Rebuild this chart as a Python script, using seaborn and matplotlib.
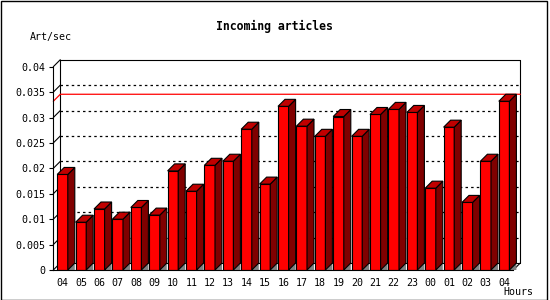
import numpy as np
import pandas as pd
import matplotlib
matplotlib.use("Agg")
import matplotlib.pyplot as plt
from matplotlib.patches import Polygon, Rectangle
from matplotlib.ticker import FuncFormatter
import seaborn as sns

# ---- data ----
hours = ['04', '05', '06', '07', '08', '09', '10', '11', '12', '13', '14', '15',
         '16', '17', '18', '19', '20', '21', '22', '23', '00', '01', '02', '03', '04']
values = [0.0188, 0.0094, 0.0120, 0.0100, 0.0123, 0.0108, 0.0195, 0.0155, 0.0206,
          0.0214, 0.0277, 0.0169, 0.0322, 0.0283, 0.0263, 0.0302, 0.0263, 0.0306,
          0.0316, 0.0310, 0.0161, 0.0281, 0.0133, 0.0214, 0.0332]
y_ticks = [0, 0.005, 0.01, 0.015, 0.02, 0.025, 0.03, 0.035, 0.04]
title = "Incoming articles"
y_label = "Art/sec"
x_label = "Hours"

sns.set_theme(style="white")
plt.rcParams['font.family'] = ['DejaVu Sans Mono']
plt.rcParams['text.color'] = 'black'

W, H = 550, 300
fig = plt.figure(figsize=(W / 100, H / 100), dpi=100)
ax_l, ax_b, ax_w, ax_h = 53.3, 30.0, 460.0, 203.3
ax = fig.add_axes([ax_l / W, ax_b / H, ax_w / W, ax_h / H])

df = pd.DataFrame({"slot": np.arange(len(values)), "rate": values})
sns.barplot(data=df, x="slot", y="rate", color="#ff0000", saturation=1,
            width=0.576, edgecolor="black", linewidth=0.8, ax=ax, zorder=3)

n = len(values)
xmin, xmax = -0.5, n - 0.5
ymin, ymax = y_ticks[0], y_ticks[-1]
ax.set_xlim(xmin, xmax)
ax.set_ylim(ymin, ymax)

# 3D depth in data units (from pixel depth)
ux = (xmax - xmin) / ax_w
uy = (ymax - ymin) / ax_h
dx, dy = 7 * ux, 7 * uy

lkw = dict(color="black", lw=0.8, clip_on=False, zorder=1)
# back plane
ax.plot([xmin + dx, xmax + dx], [ymax + dy, ymax + dy], **lkw)
ax.plot([xmin + dx, xmin + dx], [ymin + dy, ymax + dy], **lkw)
ax.plot([xmax + dx, xmax + dx], [ymin + dy, ymax + dy], **lkw)
ax.plot([xmin + dx, xmax + dx], [ymin + dy, ymin + dy], **lkw)
ax.plot([xmax, xmax + dx], [ymin, ymin + dy], **lkw)
for v in y_ticks:
    ax.plot([xmin, xmin + dx], [v, v + dy], **lkw)
for v in y_ticks[1:-1]:
    ax.plot([xmin + dx, xmax + dx], [v + dy, v + dy], color="black", lw=0.9,
            linestyle=(0, (2, 2.5)), clip_on=False, zorder=1)

# max line
m = max(values)
ax.plot([xmin, xmin + dx, xmax + dx], [m, m + dy, m + dy], color="#ff0000",
        lw=0.9, clip_on=False, zorder=1.5)

# 3D faces for bars
for p in list(ax.patches):
    x0, w, h = p.get_x(), p.get_width(), p.get_height()
    side = Polygon([(x0 + w, 0), (x0 + w, h), (x0 + w + dx, h + dy), (x0 + w + dx, dy)],
                   closed=True, facecolor="#800000", edgecolor="black", lw=0.8,
                   clip_on=False, zorder=3)
    top = Polygon([(x0, h), (x0 + w, h), (x0 + w + dx, h + dy), (x0 + dx, h + dy)],
                  closed=True, facecolor="#c00000", edgecolor="black", lw=0.8,
                  clip_on=False, zorder=3)
    tri = Polygon([(x0 + w, 0), (x0 + w + dx, dy), (x0 + w + dx, 0)], closed=True,
                  facecolor="#808080", edgecolor="none", clip_on=False, zorder=2.9)
    ax.add_patch(tri)
    ax.add_patch(side)
    ax.add_patch(top)

# axes styling
for s in ["top", "right"]:
    ax.spines[s].set_visible(False)
for s in ["left", "bottom"]:
    ax.spines[s].set_color("black")
    ax.spines[s].set_linewidth(0.8)
    ax.spines[s].set_zorder(4)

ax.set_xticks(np.arange(n))
ax.set_xticklabels(hours)
ax.set_xticks(np.arange(n + 1) - 0.5, minor=True)
ax.tick_params(axis="x", which="major", length=0, pad=6, labelsize=7.2, colors="black")
ax.tick_params(axis="x", which="minor", length=3.6, width=0.8, direction="out", color="black")
ax.set_yticks(y_ticks)
ax.yaxis.set_major_formatter(FuncFormatter(lambda v, p: f"{v:g}"))
ax.tick_params(axis="y", length=3, width=0.8, direction="out", pad=3, labelsize=7.2,
               colors="black", left=True)
ax.set_xlabel("")
ax.set_ylabel("")
ax.grid(False)

fig.text(274 / W, 1 - 26.7 / H, title, ha="center", va="center", fontsize=8.3,
         fontweight="bold", color="black")
fig.text(30 / W, 1 - 36.7 / H, y_label, ha="left", va="center", fontsize=7.2,
         color="black")
fig.text(533 / W, 1 - 292.3 / H, x_label, ha="right", va="center", fontsize=7.2,
         color="black")

fig.patches.append(Rectangle((0.5 / W, 0.5 / H), 546 / W, 298.5 / H,
                             transform=fig.transFigure, fill=False,
                             edgecolor="black", lw=1.0))

fig.savefig("out.png", dpi=100)
